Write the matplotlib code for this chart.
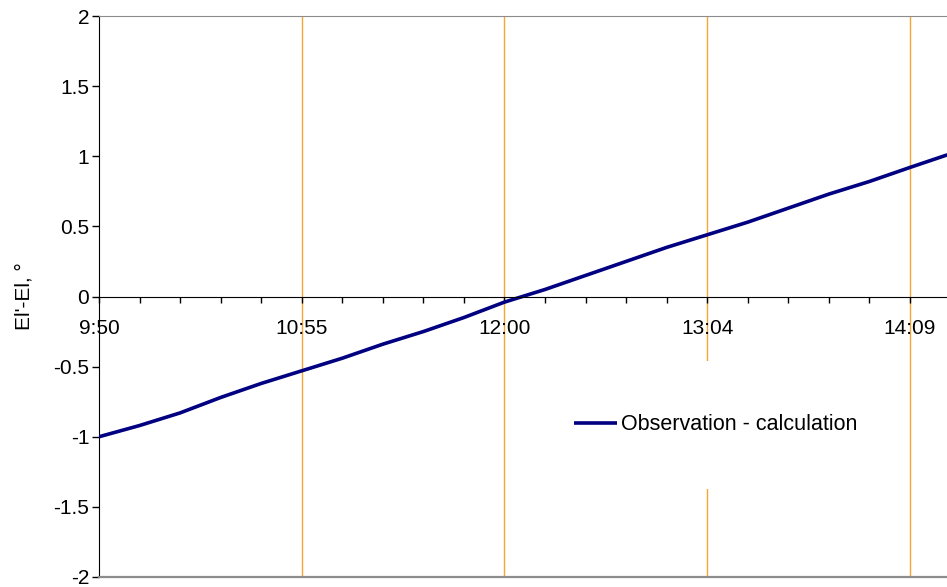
import matplotlib
matplotlib.use("Agg")
import matplotlib.pyplot as plt
from matplotlib.patches import Rectangle

plt.rcParams['font.family'] = ['Liberation Sans', 'DejaVu Sans']

# Elapsed minutes since 9:50, sampled every 13 minutes
minutes = [0, 13, 26, 39, 52, 65, 78, 91, 104, 117, 130, 143, 156, 169,
           182, 195, 208, 221, 234, 247, 260, 272]
# Elevation difference (observation - calculation), degrees
diff = [-1.00, -0.92, -0.83, -0.72, -0.62, -0.53, -0.44, -0.34, -0.25,
        -0.15, -0.04, 0.05, 0.15, 0.25, 0.35, 0.44, 0.53, 0.63, 0.73,
        0.82, 0.92, 1.01]

major_ticks = [0, 65, 130, 195, 260]
major_labels = ['9:50', '10:55', '12:00', '13:04', '14:09']
minor_ticks = list(range(0, 273, 13))
y_ticks = [-2, -1.5, -1, -0.5, 0, 0.5, 1, 1.5, 2]
y_labels = ['-2', '-1.5', '-1', '-0.5', '0', '0.5', '1', '1.5', '2']

fig = plt.figure(figsize=(9.47, 5.87), dpi=100)
ax = fig.add_axes([99 / 947, 10 / 587, 1 - 99 / 947, 561 / 587])

ax.set_xlim(0, 271.9)
ax.set_ylim(-2, 2)

# vertical grid at the labelled times
for t in major_ticks[1:]:
    ax.axvline(t, color='#F5A733', lw=1.0, zorder=1)

# white legend backdrop
ax.add_patch(Rectangle((0.545, 0.157), 0.39, 0.228, transform=ax.transAxes,
                       facecolor='white', edgecolor='none', zorder=2))

ax.plot(minutes, diff, color='#000080', lw=2.6, zorder=4,
        label='Observation - calculation', solid_capstyle='butt')

# frame
ax.spines['right'].set_visible(False)
ax.spines['top'].set_color('#8c8c8c')
ax.spines['left'].set_color('black')
ax.spines['bottom'].set_position(('data', 0))
ax.spines['bottom'].set_color('black')
ax.spines['bottom'].set_zorder(5)
ax.axhline(-2, color='#8c8c8c', lw=1.6, zorder=5, clip_on=False)

ax.set_xticks(major_ticks)
ax.set_xticklabels(major_labels)
ax.set_xticks(minor_ticks, minor=True)
ax.tick_params(axis='x', which='both', direction='out', length=4.5,
               width=1, pad=12, labelsize=15, color='black')
ax.set_yticks(y_ticks)
ax.set_yticklabels(y_labels)
ax.tick_params(axis='y', direction='out', length=5, width=1, pad=2,
               labelsize=15)

ax.set_ylabel("El'-El, °", fontsize=15, labelpad=14)

leg = ax.legend(loc='center left', bbox_to_anchor=(0.560, 0.271),
                frameon=False, fontsize=15.5, handlelength=2.0,
                handletextpad=0.2, borderpad=0, borderaxespad=0)
leg.set_zorder(6)

fig.savefig('out.png', dpi=100)
